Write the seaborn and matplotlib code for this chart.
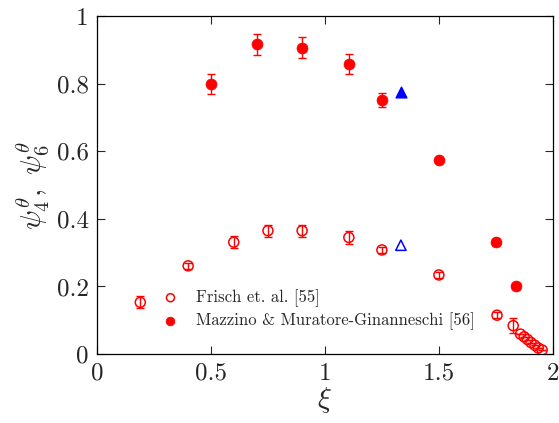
import numpy as np
import pandas as pd
import seaborn as sns
import matplotlib.pyplot as plt
from matplotlib.ticker import FuncFormatter

# dados
xi_frisch = [0.19, 0.40, 0.60, 0.75, 0.90, 1.105, 1.25, 1.50, 1.755, 1.826,
             1.858, 1.874, 1.889, 1.904, 1.921, 1.936, 1.953]
psi_frisch = [0.153, 0.261, 0.331, 0.365, 0.365, 0.345, 0.308, 0.234, 0.115, 0.084,
              0.059, 0.051, 0.043, 0.034, 0.026, 0.018, 0.012]
err_frisch = [0.018, 0.008, 0.018, 0.018, 0.018, 0.018, 0.008, 0.008, 0.008, 0.023,
              0, 0, 0, 0, 0, 0, 0]

xi_mazzino = [0.50, 0.70, 0.90, 1.105, 1.25, 1.50, 1.75, 1.84]
psi_mazzino = [0.799, 0.916, 0.907, 0.858, 0.751, 0.574, 0.331, 0.201]
err_mazzino = [0.03, 0.03, 0.03, 0.03, 0.02, 0, 0, 0]

xi_tri = [4 / 3, 4 / 3]
psi_tri = [0.775, 0.322]

df_f = pd.DataFrame({'xi': xi_frisch, 'psi': psi_frisch, 'err': err_frisch})
df_m = pd.DataFrame({'xi': xi_mazzino, 'psi': psi_mazzino, 'err': err_mazzino})

sns.set_style('ticks')
plt.rcParams['font.family'] = ['cmr10', 'DejaVu Serif']
plt.rcParams['mathtext.fontset'] = 'cm'
plt.rcParams['axes.formatter.use_mathtext'] = True

fig = plt.figure(figsize=(5.59, 4.23), dpi=100)
ax = fig.add_axes([0.1735, 0.163, 0.8155, 0.799])

# barras de erro
ax.errorbar(df_f['xi'], df_f['psi'], yerr=df_f['err'], fmt='none', ecolor='red',
            elinewidth=1, capsize=3, capthick=1, zorder=2)
ax.errorbar(df_m['xi'], df_m['psi'], yerr=df_m['err'], fmt='none', ecolor='red',
            elinewidth=1, capsize=3, capthick=1, zorder=2)

sns.scatterplot(data=df_f, x='xi', y='psi', ax=ax, marker='o', s=52,
                facecolors='none', edgecolor='red', linewidth=1.1,
                label='Frisch et. al. [55]', zorder=3)
sns.scatterplot(data=df_m, x='xi', y='psi', ax=ax, marker='o', s=62,
                color='red', edgecolor='red', linewidth=0.5,
                label='Mazzino & Muratore-Ginanneschi [56]', zorder=3)

# triangulos azuis
ax.scatter(xi_tri[:1], psi_tri[:1], marker='^', s=60, color='blue', zorder=3)
ax.scatter(xi_tri[1:], psi_tri[1:], marker='^', s=55, facecolors='none',
           edgecolors='blue', linewidths=1.1, zorder=3)

ax.set_xlim(0, 2)
ax.set_ylim(0, 1)
ax.set_xticks([0, 0.5, 1, 1.5, 2])
ax.set_yticks([0, 0.2, 0.4, 0.6, 0.8, 1])
fmt = FuncFormatter(lambda v, p: '%g' % v)
ax.xaxis.set_major_formatter(fmt)
ax.yaxis.set_major_formatter(fmt)
ax.tick_params(direction='in', top=True, right=True, length=6, width=0.8,
               labelsize=18, pad=6)
for s in ax.spines.values():
    s.set_linewidth(0.9)
    s.set_color('black')

ax.set_xlabel(r'$\xi$', fontsize=21, labelpad=0)
ax.set_ylabel(r'$\psi_4^\theta,\ \psi_6^\theta$', fontsize=21, labelpad=4)

ax.legend(loc='lower left', bbox_to_anchor=(0.11, 0.05), frameon=False,
          fontsize=12, handletextpad=0.55, labelspacing=0.35, markerscale=0.8,
          borderaxespad=0)

plt.savefig('out.png', dpi=100)
